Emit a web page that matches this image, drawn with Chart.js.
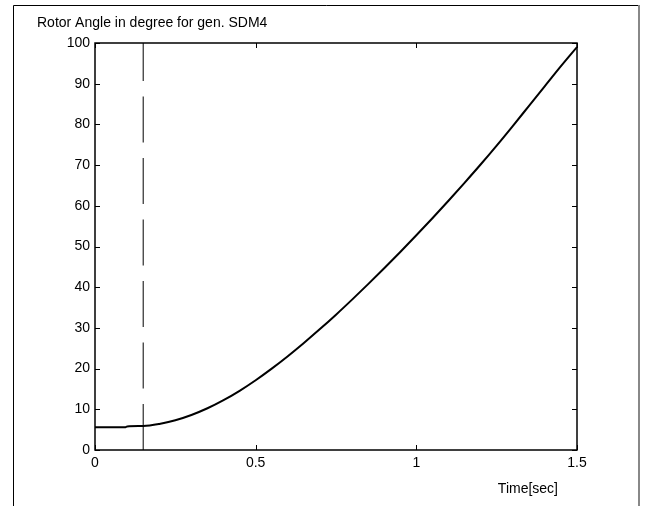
<!DOCTYPE html>
<html>
<head>
<meta charset="utf-8">
<script src="https://cdn.jsdelivr.net/npm/chart.js@4/dist/chart.umd.min.js"></script>
<style>
  html, body { margin: 0; padding: 0; background: #fff; }
  #wrap { width: 647px; height: 506px; position: relative; }
</style>
</head>
<body>
<div id="wrap"><canvas id="c" width="647" height="506"></canvas></div>
<script>
const chartTitle = 'Rotor Angle in degree for gen. SDM4';
const xAxisLabel = 'Time[sec]';
const timeSec = [0, 0.05, 0.095, 0.1, 0.15, 0.2, 0.25, 0.3, 0.35, 0.4, 0.45, 0.5, 0.55, 0.6, 0.65, 0.7, 0.75, 0.8, 0.85, 0.9, 0.95, 1.0, 1.05, 1.1, 1.15, 1.2, 1.25, 1.3, 1.35, 1.4, 1.45, 1.5];
const rotorAngle = [5.6, 5.6, 5.6, 5.8, 5.9, 6.4, 7.3, 8.6, 10.25, 12.25, 14.55, 17.15, 20.0, 23.05, 26.3, 29.7, 33.25, 36.95, 40.75, 44.65, 48.65, 52.75, 56.95, 61.25, 65.65, 70.15, 74.8, 79.6, 84.5, 89.4, 94.3, 99.0];
const faultTime = [0.15, 0.15];
const faultLine = [0, 100];
const xTicks = [0, 0.5, 1, 1.5];
const yTicks = [0, 10, 20, 30, 40, 50, 60, 70, 80, 90, 100];

const FONT = '"Liberation Sans", Arial, sans-serif';

const decor = {
  id: 'decor',
  beforeDraw(chart) {
    const ctx = chart.ctx;
    ctx.save();
    ctx.fillStyle = '#fff';
    ctx.fillRect(0, 0, chart.width, chart.height);
    ctx.restore();
  },
  afterDraw(chart) {
    const ctx = chart.ctx;
    const a = chart.chartArea;
    const xs = chart.scales.x, ys = chart.scales.y;
    ctx.save();
    // outer frame
    ctx.strokeStyle = '#000';
    ctx.lineWidth = 1;
    ctx.beginPath();
    ctx.moveTo(13.5, 520); ctx.lineTo(13.5, 5.5); ctx.lineTo(639, 5.5);
    ctx.stroke();
    ctx.strokeStyle = '#888';
    ctx.lineWidth = 2;
    ctx.beginPath();
    ctx.moveTo(639, 5); ctx.lineTo(639, 520);
    ctx.stroke();
    // plot box
    ctx.strokeStyle = '#000';
    ctx.lineWidth = 1.5;
    ctx.strokeRect(a.left, a.top, a.right - a.left, a.bottom - a.top);
    // inward ticks
    ctx.lineWidth = 1;
    ctx.beginPath();
    xTicks.forEach(v => {
      const px = Math.round(xs.getPixelForValue(v)) + 0.5;
      ctx.moveTo(px, a.bottom); ctx.lineTo(px, a.bottom - 5);
      ctx.moveTo(px, a.top); ctx.lineTo(px, a.top + 5);
    });
    yTicks.forEach(v => {
      const py = Math.round(ys.getPixelForValue(v)) + 0.5;
      ctx.moveTo(a.left, py); ctx.lineTo(a.left + 5, py);
      ctx.moveTo(a.right, py); ctx.lineTo(a.right - 5, py);
    });
    ctx.stroke();
    // texts
    ctx.fillStyle = '#000';
    ctx.font = '14px ' + FONT;
    ctx.textBaseline = 'alphabetic';
    ctx.textAlign = 'left';
    ctx.fillText(chartTitle, 37, 27);
    ctx.textAlign = 'right';
    ctx.fillText(xAxisLabel, 558, 493);
    ctx.restore();
  }
};

new Chart(document.getElementById('c'), {
  type: 'line',
  data: {
    datasets: [
      {
        data: timeSec.map((t, i) => ({ x: t, y: rotorAngle[i] })),
        borderColor: '#000',
        borderWidth: 2,
        pointRadius: 0,
        cubicInterpolationMode: 'monotone',
        fill: false
      },
      {
        data: faultTime.map((t, i) => ({ x: t, y: faultLine[i] })),
        borderColor: '#000',
        borderWidth: 1,
        borderDash: [46, 15.5],
        pointRadius: 0,
        fill: false
      }
    ]
  },
  options: {
    responsive: false,
    animation: false,
    devicePixelRatio: 1,
    layout: { padding: { left: 0, top: 43, right: 70, bottom: 0 } },
    plugins: { legend: { display: false }, tooltip: { enabled: false }, title: { display: false } },
    scales: {
      x: {
        type: 'linear',
        min: 0, max: 1.5,
        afterBuildTicks: s => { s.ticks = xTicks.map(v => ({ value: v })); },
        afterFit: s => { s.height = 56; },
        grid: { display: false, drawTicks: false },
        border: { display: false },
        ticks: {
          color: '#000', padding: 5,
          font: { family: FONT, size: 14 },
          maxRotation: 0,
          callback: v => String(v)
        }
      },
      y: {
        type: 'linear',
        min: 0, max: 100,
        afterBuildTicks: s => { s.ticks = yTicks.map(v => ({ value: v })); },
        afterFit: s => { s.width = 95; },
        grid: { display: false, drawTicks: false },
        border: { display: false },
        ticks: {
          color: '#000', padding: 5,
          font: { family: FONT, size: 14 },
          callback: v => String(v)
        }
      }
    }
  },
  plugins: [decor]
});
</script>
</body>
</html>
